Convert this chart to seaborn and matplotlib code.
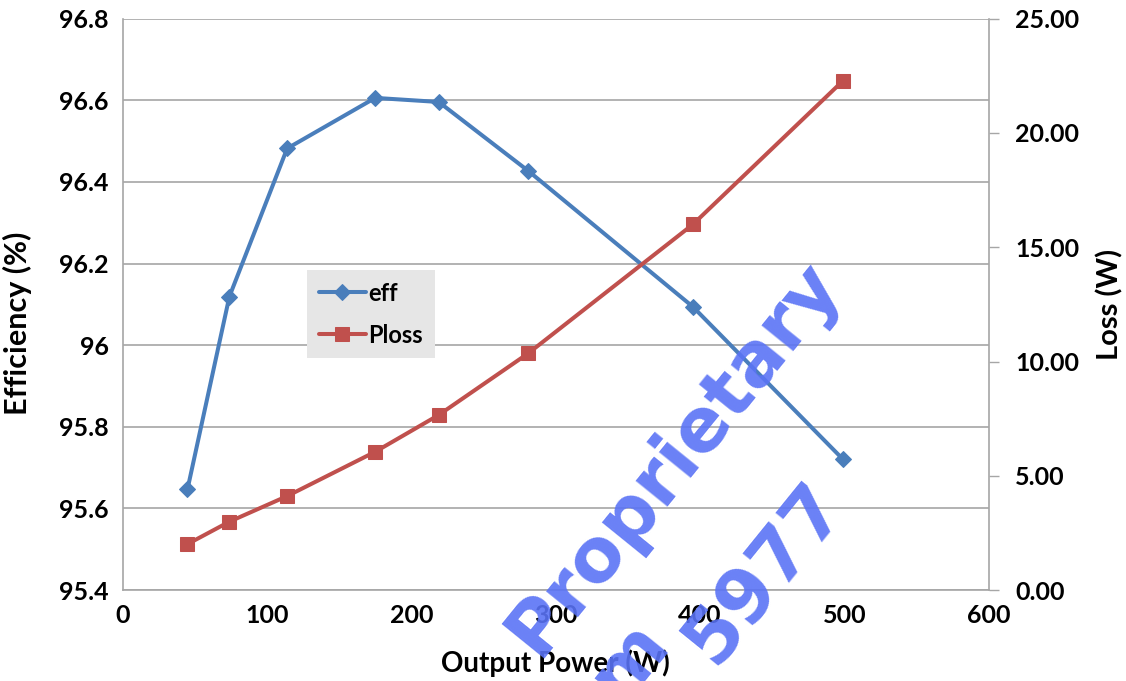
import matplotlib
matplotlib.use("Agg")
import matplotlib.pyplot as plt
import seaborn as sns
import pandas as pd

# values
output_power = [45, 74, 114, 175, 219, 281, 395, 499]
efficiency = [95.647, 96.119, 96.482, 96.606, 96.596, 96.427, 96.094, 95.720]
ploss = [2.01, 2.99, 4.11, 6.05, 7.66, 10.36, 16.00, 22.29]

x_ticks = [0, 100, 200, 300, 400, 500, 600]
eff_ticks = [95.4, 95.6, 95.8, 96.0, 96.2, 96.4, 96.6, 96.8]
eff_labels = ["95.4", "95.6", "95.8", "96", "96.2", "96.4", "96.6", "96.8"]
loss_ticks = [0, 5, 10, 15, 20, 25]
loss_labels = ["0.00", "5.00", "10.00", "15.00", "20.00", "25.00"]

df = pd.DataFrame({"P": output_power, "eff": efficiency, "Ploss": ploss})

sns.set_style("white")
plt.rcParams["font.family"] = ["Lato", "DejaVu Sans"]
plt.rcParams["text.color"] = "black"
plt.rcParams["axes.labelcolor"] = "black"
plt.rcParams["xtick.color"] = "black"
plt.rcParams["ytick.color"] = "black"

eff_color = "#4a7ebb"
loss_color = "#c0504d"
grid_color = "#a6a6a6"

fig = plt.figure(figsize=(11.26, 6.81), dpi=100)
ax1 = fig.add_axes([0.1088, 0.1336, 0.7695, 0.8389])
ax2 = ax1.twinx()

sns.lineplot(data=df, x="P", y="eff", ax=ax1, color=eff_color, lw=2.9,
             marker="D", markersize=8, markeredgecolor=eff_color, label="eff", legend=False)
sns.lineplot(data=df, x="P", y="Ploss", ax=ax2, color=loss_color, lw=2.9,
             marker="s", markersize=10, markeredgecolor=loss_color, label="Ploss", legend=False)

tick_font = {"fontsize": 18, "fontweight": "bold"}
ax1.set_xlim(0, 600)
ax1.set_ylim(95.4, 96.8)
ax2.set_ylim(0, 25)
ax1.set_xticks(x_ticks)
ax1.set_xticklabels([str(t) for t in x_ticks], **tick_font)
ax1.set_yticks(eff_ticks)
ax1.set_yticklabels(eff_labels, **tick_font)
ax2.set_yticks(loss_ticks)
ax2.set_yticklabels(loss_labels, **tick_font)

ax1.yaxis.grid(True, color=grid_color, lw=1.2)
ax1.xaxis.grid(False)
ax1.tick_params(axis="both", length=0, pad=10, labelcolor="black")
ax2.tick_params(axis="y", length=7, width=1, color=grid_color, pad=12,
                direction="out", labelcolor="black")

for ax in (ax1, ax2):
    for side in ("top", "left", "bottom", "right"):
        ax.spines[side].set_visible(False)
ax1.spines["left"].set_visible(True)
ax1.spines["bottom"].set_visible(True)
ax2.spines["right"].set_visible(True)
for sp in (ax1.spines["left"], ax1.spines["bottom"], ax2.spines["right"]):
    sp.set_color(grid_color)
    sp.set_linewidth(1.2)

ax1.set_xlabel("Output Power (W)", fontsize=20, fontweight="bold", labelpad=16)
ax1.set_ylabel("Efficiency (%)", fontsize=22, fontweight="bold")
ax1.yaxis.set_label_coords(-0.105, 0.466)
ax2.set_ylabel("Loss (W)", fontsize=21, fontweight="bold", labelpad=12)

h1, l1 = ax1.get_legend_handles_labels()
h2, l2 = ax2.get_legend_handles_labels()
ax2.legend(h1 + h2, l1 + l2, loc="upper left", bbox_to_anchor=(0.199, 0.581),
           frameon=True, fancybox=False, facecolor="#e6e6e6", edgecolor="none",
           framealpha=1, prop={"size": 17, "weight": "bold"}, handlelength=2.0,
           handletextpad=0.1, labelspacing=0.8, borderpad=0.5)

# watermark (partly cut off at the bottom edge, as in the source image)
wm = {"rotation": 51, "fontsize": 54, "fontweight": "bold", "family": "DejaVu Sans",
      "color": "#5a73f5", "alpha": 0.9, "ha": "center", "va": "center", "zorder": 10}
fig.text(0.598, 0.327, "Proprietary", **wm)
fig.text(0.6785, 0.158, "5977", **wm)
fig.text(0.559, 0.03, "m", **wm)

fig.savefig("out.png", dpi=100)
